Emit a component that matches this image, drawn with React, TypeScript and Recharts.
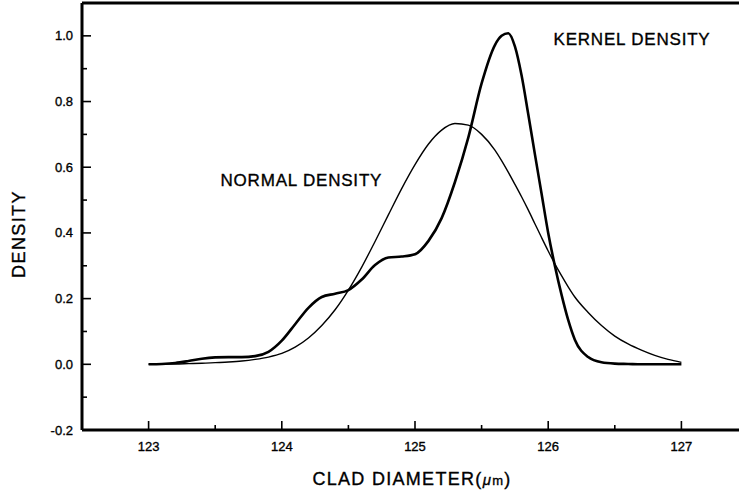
import React from 'react';
import { LineChart, Line, XAxis, YAxis, ReferenceLine, ReferenceDot, Label } from 'recharts';

const xValues = [
  123.0, 123.1, 123.2, 123.3, 123.4, 123.5, 123.6, 123.7, 123.8, 123.9,
  124.0, 124.1, 124.2, 124.3, 124.4, 124.5, 124.6, 124.7, 124.8, 124.9,
  125.0, 125.1, 125.2, 125.3, 125.4, 125.5, 125.6, 125.65, 125.7, 125.75,
  125.8, 125.85, 125.9, 125.95, 126.0, 126.05, 126.1, 126.15, 126.2, 126.3,
  126.4, 126.5, 126.6, 126.7, 126.8, 126.9, 127.0,
];

const kernelValues = [
  0.0, 0.001, 0.004, 0.01, 0.017, 0.021, 0.022, 0.022, 0.025, 0.038,
  0.072, 0.122, 0.172, 0.205, 0.215, 0.226, 0.258, 0.302, 0.325, 0.328,
  0.335, 0.375, 0.445, 0.555, 0.69, 0.855, 0.972, 1.0, 1.008, 0.968,
  0.88, 0.762, 0.64, 0.52, 0.4, 0.3, 0.212, 0.135, 0.075, 0.022,
  0.006, 0.002, 0.001, 0.0, 0.0, 0.0, 0.0,
];

const normalValues = [
  0.0, 0.001, 0.001, 0.002, 0.003, 0.005, 0.007, 0.01, 0.015, 0.022,
  0.033, 0.052, 0.08, 0.118, 0.166, 0.226, 0.296, 0.374, 0.455, 0.535,
  0.608, 0.67, 0.713, 0.733, 0.728, 0.7, 0.652, 0.62, 0.585, 0.548,
  0.51, 0.47, 0.428, 0.386, 0.345, 0.306, 0.27, 0.236, 0.205, 0.158,
  0.118, 0.086, 0.062, 0.043, 0.027, 0.015, 0.006,
];

const xTicks = [123, 123.5, 124, 124.5, 125, 125.5, 126, 126.5, 127];
const yTicks = [-0.2, -0.1, 0, 0.1, 0.2, 0.3, 0.4, 0.5, 0.6, 0.7, 0.8, 0.9, 1.0];
const xDomain = [122.5, 127.5];
const yDomain = [-0.2, 1.1];

const xTitle = 'CLAD DIAMETER(';
const yTitle = 'DENSITY';
const kernelLabel = 'KERNEL DENSITY';
const normalLabel = 'NORMAL DENSITY';
const kernelLabelPos = { x: 126.04, y: 0.99 };
const normalLabelPos = { x: 123.54, y: 0.56 };

const data = xValues.map((x, i) => ({ x, kernel: kernelValues[i], normal: normalValues[i] }));

const FONT = '"Liberation Sans", Arial, Helvetica, sans-serif';
const TXT = { fontFamily: FONT, fill: '#000', stroke: '#000', strokeWidth: 0.35 };

const XTick = (props: any) => {
  const { x, y, payload } = props;
  const v = payload.value as number;
  const major = Math.abs(v - Math.round(v)) < 1e-6;
  return (
    <g>
      <line x1={x} x2={x} y1={y} y2={y - (major ? 9 : 5)} stroke="#000" strokeWidth={1.6} />
      {major && (
        <text x={x} y={y + 21} textAnchor="middle" fontSize={13} {...TXT}>
          {String(v)}
        </text>
      )}
    </g>
  );
};

const YTick = (props: any) => {
  const { x, y, payload } = props;
  const v = payload.value as number;
  const major = Math.abs(Math.round(v * 10)) % 2 === 0;
  return (
    <g>
      <line x1={x} x2={x + (major ? 9 : 5)} y1={y} y2={y} stroke="#000" strokeWidth={1.6} />
      {major && (
        <text x={x - 9} y={y + 4.5} textAnchor="end" fontSize={13} {...TXT}>
          {v.toFixed(1)}
        </text>
      )}
    </g>
  );
};

const XTitle = (props: any) => {
  const vb = props.viewBox || { x: 82, y: 430, width: 666 };
  return (
    <text x={vb.x + 330} y={vb.y + 55} textAnchor="middle" fontSize={18} letterSpacing={1.3} {...TXT}>
      {xTitle}
      <tspan fontStyle="italic" fontSize={15}>μ</tspan>
      <tspan fontSize={13}>m</tspan>
      )
    </text>
  );
};

const YTitle = (props: any) => {
  const vb = props.viewBox || { x: 22, y: 3, width: 60 };
  const cx = vb.x + (vb.width || 0) - 63;
  const cy = vb.y + 231;
  return (
    <text
      x={cx}
      y={cy}
      transform={`rotate(-90, ${cx}, ${cy})`}
      textAnchor="middle"
      dominantBaseline="central"
      fontSize={18}
      letterSpacing={1.4}
      {...TXT}
    >
      {yTitle}
    </text>
  );
};

const annot = (text: string) => (props: any) => {
  const vb = props.viewBox || { x: 0, y: 0, width: 0, height: 0 };
  const x = vb.x + (vb.width || 0) / 2;
  const y = vb.y + (vb.height || 0) / 2;
  return (
    <text x={x} y={y} textAnchor="start" dominantBaseline="central" fontSize={17} letterSpacing={0.8} {...TXT}>
      {text}
    </text>
  );
};

export default function App() {
  return (
    <div style={{ position: 'absolute', left: 0, top: 0, width: 739, height: 497, overflow: 'hidden', background: '#fff' }}>
      <LineChart width={760} height={497} data={data} margin={{ top: 3, right: 12, bottom: 7, left: 22 }}>
        <XAxis
          dataKey="x"
          type="number"
          domain={xDomain}
          ticks={xTicks}
          interval={0}
          tick={<XTick />}
          tickLine={false}
          tickSize={0}
          tickMargin={0}
          height={60}
          allowDataOverflow
          axisLine={{ stroke: '#000', strokeWidth: 3 }}
        >
          <Label content={<XTitle />} />
        </XAxis>
        <YAxis
          type="number"
          domain={yDomain}
          ticks={yTicks}
          interval={0}
          tick={<YTick />}
          tickLine={false}
          tickSize={0}
          tickMargin={0}
          width={60}
          allowDataOverflow
          axisLine={{ stroke: '#000', strokeWidth: 3 }}
        >
          <Label content={<YTitle />} />
        </YAxis>
        <ReferenceLine y={yDomain[1]} stroke="#000" strokeWidth={3} />
        <Line type="monotone" dataKey="normal" stroke="#000" strokeWidth={1.4} dot={false} isAnimationActive={false} />
        <Line type="monotone" dataKey="kernel" stroke="#000" strokeWidth={2.6} dot={false} isAnimationActive={false} />
        <ReferenceDot x={kernelLabelPos.x} y={kernelLabelPos.y} r={1} fill="none" stroke="none" label={annot(kernelLabel)} />
        <ReferenceDot x={normalLabelPos.x} y={normalLabelPos.y} r={1} fill="none" stroke="none" label={annot(normalLabel)} />
      </LineChart>
    </div>
  );
}
